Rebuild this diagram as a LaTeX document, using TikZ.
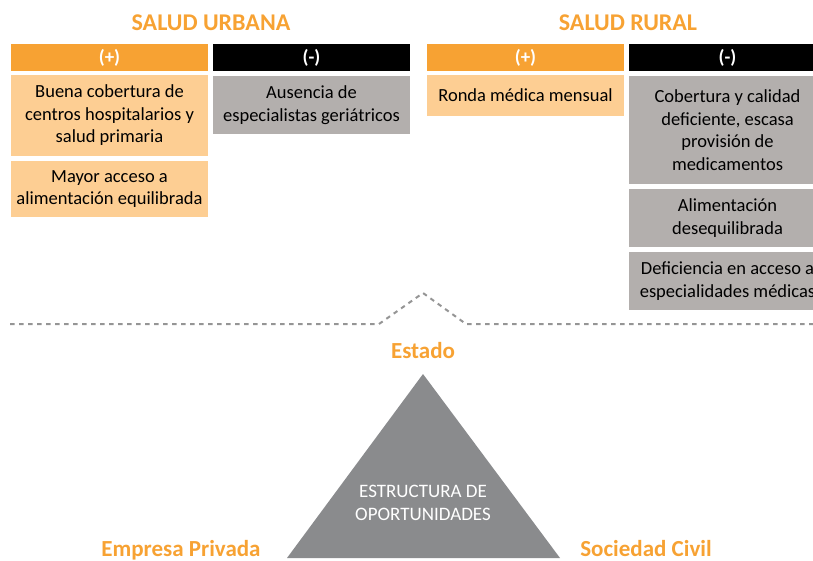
\documentclass[tikz,border=0pt]{standalone}
\usepackage{fontspec}
\setmainfont{Carlito}
\definecolor{myorange}{HTML}{F7A233}
\definecolor{mypeach}{HTML}{FDCE93}
\definecolor{mygray}{HTML}{B3AFAD}
\definecolor{tri}{HTML}{8A8B8D}
\definecolor{dashgray}{HTML}{959595}
\tikzset{
  title/.style={font=\bfseries\fontsize{24}{26}\selectfont, text=myorange, inner sep=0},
  headpos/.style={fill=myorange, minimum width=197pt, minimum height=27pt, inner sep=0, text=white, font=\bfseries\fontsize{19}{20}\selectfont},
  headneg/.style={fill=black, minimum width=197pt, minimum height=27pt, inner sep=0, text=white, font=\bfseries\fontsize{19}{20}\selectfont},
  posbox/.style={fill=mypeach, minimum width=197pt, inner sep=0, align=center, font=\fontsize{18.5}{22.5}\selectfont},
  negbox/.style={fill=mygray, minimum width=197pt, inner sep=0, align=center, font=\fontsize{18.5}{22.5}\selectfont},
  actor/.style={font=\bfseries\fontsize{23}{24}\selectfont, text=myorange, inner sep=0, anchor=base},
}
\begin{document}
\begin{tikzpicture}[x=1pt,y=-1pt]
\useasboundingbox (0,0) rectangle (813,561);
\clip (0,0) rectangle (813,561);
% titles
\node[title] (tu) at (211,23) {SALUD URBANA};
\node[title] (tr) at (628,23) {SALUD RURAL};
% headers
\node[headpos] (hu1) at (109.5,57.5) {(+)};
\node[headneg] (hu2) at (311.5,57.5) {(-)};
\node[headpos] (hr1) at (525.5,57.5) {(+)};
\node[headneg] (hr2) at (727.5,57.5) {(-)};
% urban boxes
\node[posbox, minimum height=81pt] (u1) at (109.5,115.5) {Buena cobertura de\\centros hospitalarios y\\salud primaria};
\node[posbox, minimum height=56pt] (u2) at (109.5,189) {Mayor acceso a\\alimentación equilibrada};
\node[negbox, minimum height=58pt] (u3) at (311.5,105) {Ausencia de\\especialistas geriátricos};
% rural boxes
\node[posbox, minimum height=41pt] (r1) at (525.5,95.5) {Ronda médica mensual};
\node[negbox, minimum height=108pt] (r2) at (727.5,130) {Cobertura y calidad\\deficiente, escasa\\provisión de\\medicamentos};
\node[negbox, minimum height=58pt] (r3) at (727.5,218) {Alimentación\\desequilibrada};
\node[negbox, minimum height=58pt] (r4) at (727.5,281) {Deficiencia en acceso a\\especialidades médicas};
% dashed divider
\coordinate (d0) at (10,324);
\coordinate (d1) at (379,324);
\coordinate (d2) at (423,293);
\coordinate (d3) at (466,324);
\coordinate (d4) at (813,324);
\draw[dashgray, line width=2pt, dash pattern=on 4.5pt off 4.5pt] (d0) -- (d1) -- (d2) -- (d3) -- (d4);
% triangle
\coordinate (ta) at (423,374);
\coordinate (tl) at (287,558);
\coordinate (tr2) at (560,558);
\fill[tri] (ta) -- (tl) -- (tr2) -- cycle;
\node[text=white, align=center, font=\fontsize{19}{23}\selectfont, inner sep=0] (est) at (423,503) {ESTRUCTURA DE\\OPORTUNIDADES};
\node[actor] (e) at (423,358) {Estado};
\node[actor] (ep) at (181,556) {Empresa Privada};
\node[actor] (sc) at (646,556) {Sociedad Civil};
\end{tikzpicture}
\end{document}
